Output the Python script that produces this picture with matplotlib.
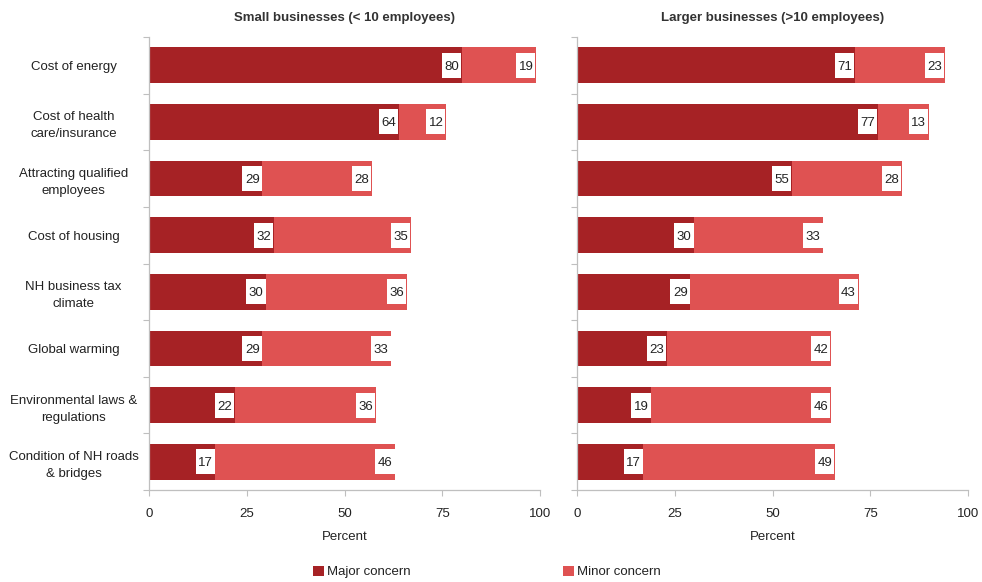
import matplotlib
matplotlib.use("Agg")
import matplotlib.pyplot as plt
from matplotlib.patches import Rectangle, Patch
import numpy as np

plt.rcParams["font.family"] = ["Liberation Sans", "DejaVu Sans"]

categories = [
    "Cost of energy",
    "Cost of health\ncare/insurance",
    "Attracting qualified\nemployees",
    "Cost of housing",
    "NH business tax\nclimate",
    "Global warming",
    "Environmental laws &\nregulations",
    "Condition of NH roads\n& bridges",
]
small_major = [80, 64, 29, 32, 30, 29, 22, 17]
small_minor = [19, 12, 28, 35, 36, 33, 36, 46]
large_major = [71, 77, 55, 30, 29, 23, 19, 17]
large_minor = [23, 13, 28, 33, 43, 42, 46, 49]

panel_titles = ["Small businesses (< 10 employees)", "Larger businesses (>10 employees)"]
series_names = ["Major concern", "Minor concern"]
x_ticks = [0, 25, 50, 75, 100]

MAJOR_COLOR = "#A62225"
MINOR_COLOR = "#DF5252"
SPINE_COLOR = "#BFBFBF"
TEXT_COLOR = "#222222"

fig = plt.figure(figsize=(9.82, 5.82), dpi=100)
ax_left = fig.add_axes([149 / 982, 1 - 490 / 582, 391 / 982, 453 / 582])
ax_right = fig.add_axes([577 / 982, 1 - 490 / 582, 391 / 982, 453 / 582])

n = len(categories)
y = np.arange(n)
bar_h = 0.63
box_h = 0.44
box_w = 4.9


def value_box(ax, end, yc, value):
    # white label box sitting just inside the right end of a segment
    right = end - 0.2
    ax.add_patch(Rectangle((right - box_w, yc - box_h / 2), box_w, box_h,
                           facecolor="white", edgecolor="none", zorder=3))
    ax.text(right - 0.5, yc, f"{value}", ha="right", va="center_baseline",
            fontsize=9.5, color=TEXT_COLOR, zorder=4)


for ax, major, minor, title in [
    (ax_left, small_major, small_minor, panel_titles[0]),
    (ax_right, large_major, large_minor, panel_titles[1]),
]:
    ax.barh(y, major, height=bar_h, color=MAJOR_COLOR, zorder=2)
    ax.barh(y, minor, left=major, height=bar_h, color=MINOR_COLOR, zorder=2)
    for yc, a, b in zip(y, major, minor):
        value_box(ax, a, yc, a)
        value_box(ax, a + b, yc, b)

    ax.set_xlim(0, 100)
    ax.set_ylim(n - 0.5, -0.5)
    ax.set_xticks(x_ticks)
    ax.set_xticklabels([str(t) for t in x_ticks], fontsize=9.5, color=TEXT_COLOR)
    ax.set_yticks(np.arange(n + 1) - 0.5)
    ax.set_yticklabels([])
    ax.set_yticks(y, minor=True)
    ax.tick_params(axis="y", which="minor", length=0)
    ax.tick_params(axis="both", which="major", length=4, width=0.8,
                   color=SPINE_COLOR, direction="out")
    ax.tick_params(axis="x", pad=9)
    for s in ["top", "right"]:
        ax.spines[s].set_visible(False)
    for s in ["left", "bottom"]:
        ax.spines[s].set_color(SPINE_COLOR)
        ax.spines[s].set_linewidth(0.9)
    ax.set_xlabel("Percent", fontsize=9.5, color=TEXT_COLOR, labelpad=8)
    ax.set_title(title, fontsize=9.5, fontweight="bold", color="#333333", pad=11.5)

ax_left.set_yticklabels(categories, minor=True, fontsize=9.5, color=TEXT_COLOR,
                        linespacing=1.55)
for lbl in ax_left.get_yticklabels(minor=True):
    lbl.set_x(-0.193)
    lbl.set_horizontalalignment("center")
    lbl.set_verticalalignment("center_baseline")
ax_left.tick_params(axis="y", which="minor", pad=0)
ax_right.set_yticklabels([], minor=True)

handles = [Patch(facecolor=MAJOR_COLOR), Patch(facecolor=MINOR_COLOR)]
for h, name, xpos in zip(handles, series_names, [313 / 982, 563 / 982]):
    fig.legend([h], [name], loc="center left", bbox_to_anchor=(xpos, 1 - 572 / 582),
               frameon=False, fontsize=9.5, handlelength=0.8, handleheight=0.8,
               handletextpad=0.25, borderaxespad=0, borderpad=0,
               labelcolor=TEXT_COLOR)

fig.savefig("out.png", dpi=100)
